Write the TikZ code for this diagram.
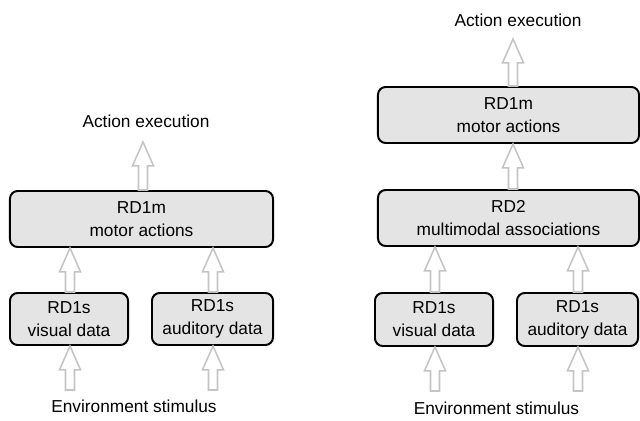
\documentclass[tikz,border=0pt]{standalone}
\usepackage{fontspec}
\setmainfont{Liberation Sans}
\usetikzlibrary{calc}

\definecolor{boxgray}{RGB}{228,228,228}
\definecolor{arrowgray}{RGB}{196,196,196}

% hollow upward block arrow from #1 to #2
\newcommand{\uparr}[2]{%
	\draw[flow] let \p1=(#1), \p2=(#2) in
		(\x1-3.2pt,\y1) -- (\x1-3.2pt,\y2-17pt) -- (\x1-7.5pt,\y2-17pt) -- (\x1,\y2)
		-- (\x1+7.5pt,\y2-17pt) -- (\x1+3.2pt,\y2-17pt) -- (\x1+3.2pt,\y1) -- cycle;}

\begin{document}
\begin{tikzpicture}[x=0.025cm,y=-0.025cm,
	font=\fontsize{12.3}{16.4}\selectfont,
	rd/.style={draw,line width=1.4pt,fill=boxgray,rounded corners=5.5pt,align=center,inner sep=0pt},
	flow/.style={draw=arrowgray,line width=1.1pt,line join=miter},
	lbl/.style={inner sep=0pt}]
	\useasboundingbox (0,0) rectangle (640,421);

	% left: without RD2
	\node[lbl] (act1) at (146,121) {Action execution};
	\node[rd,minimum width=6.575cm,minimum height=1.4cm] (mot1) at (141.5,219) {RD1m\\motor actions};
	\node[rd,minimum width=2.95cm,minimum height=1.3cm] (vis1) at (69,319) {RD1s\\visual data};
	\node[rd,minimum width=3.025cm,minimum height=1.3cm] (aud1) at (212.5,319) {RD1s\\auditory data};
	\node[lbl] (env1) at (134,406) {Environment stimulus};
	\coordinate (top1) at (143,142);
	\coordinate (inv1) at (70,390);
	\coordinate (ina1) at (213,390);

	\uparr{mot1.north -| top1}{top1}
	\uparr{vis1.north -| inv1}{inv1 |- mot1.south}
	\uparr{aud1.north -| ina1}{ina1 |- mot1.south}
	\uparr{inv1}{inv1 |- vis1.south}
	\uparr{ina1}{ina1 |- aud1.south}

	% right: with RD2
	\node[lbl] (act2) at (518,20) {Action execution};
	\node[rd,minimum width=6.525cm,minimum height=1.4cm] (mot2) at (508.5,115) {RD1m\\motor actions};
	\node[rd,minimum width=6.525cm,minimum height=1.4cm] (rd2) at (508.5,218) {RD2\\multimodal associations};
	\node[rd,minimum width=2.95cm,minimum height=1.325cm] (vis2) at (434,319.5) {RD1s\\visual data};
	\node[rd,minimum width=3.025cm,minimum height=1.325cm] (aud2) at (577.5,319.5) {RD1s\\auditory data};
	\node[lbl] (env2) at (496.5,408) {Environment stimulus};
	\coordinate (top2) at (513,39);
	\coordinate (inv2) at (435,391);
	\coordinate (ina2) at (578,391);

	\uparr{mot2.north -| top2}{top2}
	\uparr{rd2.north -| top2}{top2 |- mot2.south}
	\uparr{vis2.north -| inv2}{inv2 |- rd2.south}
	\uparr{aud2.north -| ina2}{ina2 |- rd2.south}
	\uparr{inv2}{inv2 |- vis2.south}
	\uparr{ina2}{ina2 |- aud2.south}
\end{tikzpicture}
\end{document}
